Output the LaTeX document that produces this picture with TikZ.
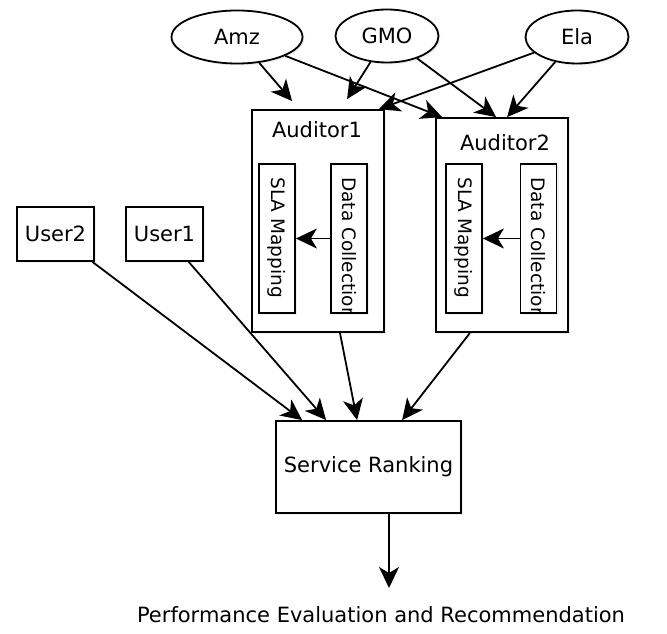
\documentclass[tikz,border=0pt]{standalone}
\usepackage{fontspec}
\setmainfont{DejaVu Sans}
\usetikzlibrary{positioning}
\usetikzlibrary{shapes.geometric, shadows}
\usetikzlibrary{arrows.meta}

\begin{document}
\begin{tikzpicture}[
        x = 1pt, y = 1pt, % one unit per pixel
        > = {Stealth[length=21pt, width=20pt, inset=6pt]}, % arrow head style
        line width = 1.8pt, % line style
        font = \fontsize{21}{25}\selectfont,
        box/.style = {draw, fill=white, inner sep=0pt,
          drop shadow={opacity=0.12, shadow xshift=2pt, shadow yshift=-2pt}},
        cloud/.style = {box, ellipse, minimum width=103pt, minimum height=53pt},
        lane/.style = {box, minimum width=36pt, minimum height=149pt},
        lanetext/.style = {rotate=-90, anchor=west, font=\fontsize{18.5}{21}\selectfont}
        ]

  \useasboundingbox (0,0) rectangle (667,633);

  \node[cloud, minimum width=131pt] (amz) at (237,596) {Amz};
  \node[cloud] (gmo) at (387,597) {GMO};
  \node[cloud] (ela) at (577,596) {Ela};

  \node[box, minimum width=132pt, minimum height=222pt] (aud1) at (318,412) {};
  \node[box, minimum width=132pt, minimum height=214pt] (aud2) at (502,408) {};
  \node (aud1t) at (317,503) {Auditor1};
  \node (aud2t) at (505,490) {Auditor2};

  \node[lane] (sla1) at (277,394.5) {};
  \node[lane] (dc1) at (349,394.5) {};
  \node[lane] (sla2) at (464,394.5) {};
  \node[lane] (dc2) at (538.5,394.5) {};

  % text runs down the lane, cut off at the bottom
  \foreach \n/\t in {sla1/SLA Mapping, dc1/Data Collection, sla2/SLA Mapping, dc2/Data Collection} {
    \begin{scope}
      \clip (\n.south west) rectangle (\n.north east);
      \node[lanetext] (\n-txt) at ([yshift=-10pt]\n.north) {\t};
    \end{scope}
  }

  \node[box, minimum width=77pt, minimum height=54pt] (user2) at (55.5,399) {User2};
  \node[box, minimum width=77pt, minimum height=54pt] (user1) at (164.5,399) {User1};
  \node[box, minimum width=185pt, minimum height=92pt] (rank) at (368.5,166) {Service Ranking};
  \node[anchor=base] (perf) at (381,11) {Performance Evaluation and Recommendation};

  \draw[->] (amz) -- ([shift={(41,8)}]aud1.north west);
  \draw[->] (gmo) -- ([shift={(96,10)}]aud1.north west);
  \draw[->] (ela) -- ([xshift=-6pt]aud1.north east);
  \draw[->] (amz) -- ([xshift=7pt]aud2.north west);
  \draw[->] (gmo) -- ([xshift=61pt]aud2.north west);
  \draw[->] (ela) -- ([xshift=72pt]aud2.north west);

  \draw[->] (dc1) -- (sla1);
  \draw[->] (dc2) -- (sla2);

  \draw[->] (user2) -- ([xshift=27pt]rank.north west);
  \draw[->] (user1) -- ([xshift=51pt]rank.north west);
  \draw[->] (aud1) -- ([xshift=82pt]rank.north west);
  \draw[->] ([xshift=-32pt]aud2.south) -- ([xshift=127pt]rank.north west);

  \coordinate (outtip) at (389,45);
  \draw[->] ([xshift=20.5pt]rank.south) -- (outtip);

\end{tikzpicture}
\end{document}
